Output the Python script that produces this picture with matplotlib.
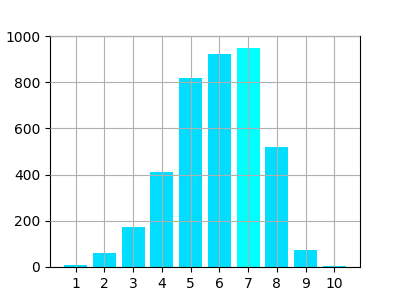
import matplotlib
matplotlib.use("Agg")
import matplotlib.pyplot as plt

categories = [1, 2, 3, 4, 5, 6, 7, 8, 9, 10]
values = [9, 61, 174, 412, 819, 923, 949, 521, 74, 4]
colors = ['#00ddff'] * 6 + ['#00ffff'] + ['#00ddff'] * 3

fig, ax = plt.subplots(figsize=(4, 3), dpi=100)
ax.bar(categories, values, color=colors)
ax.set_ylim(0, 1000)
ax.set_xticks(categories)
ax.set_axisbelow(False)
ax.grid(True, color='#b0b0b0')
fig.savefig('out.png', dpi=100)
